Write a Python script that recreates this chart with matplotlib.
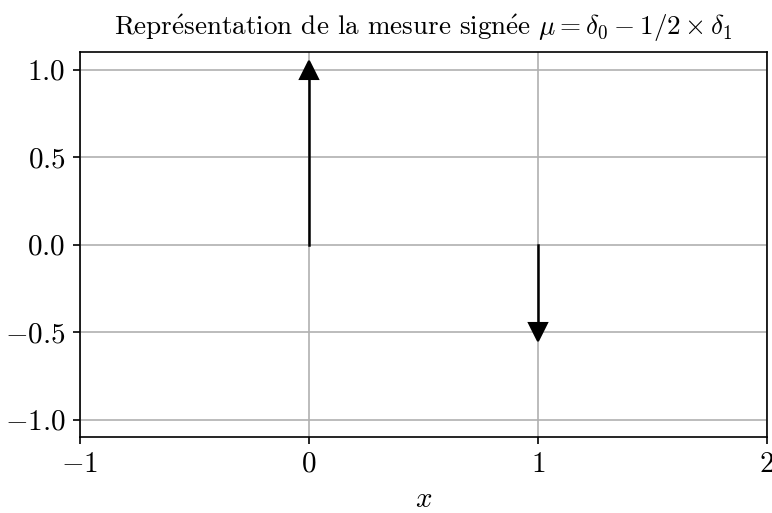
import matplotlib
matplotlib.use("Agg")
import matplotlib.pyplot as plt

plt.rcParams['font.family'] = 'serif'
plt.rcParams['font.serif'] = ['cmr10']
plt.rcParams['mathtext.fontset'] = 'cm'
plt.rcParams['axes.formatter.use_mathtext'] = True
plt.rcParams['font.size'] = 14

# masses de Dirac : positions et poids
positions = [0, 1]
weights = [1.0, -0.5]
xticks = [-1, 0, 1, 2]
yticks = [-1.0, -0.5, 0.0, 0.5, 1.0]

fig = plt.figure(figsize=(772 / 150, 513 / 150), dpi=150)
ax = fig.add_axes([80 / 772, 1 - 437 / 513, 687 / 772, 385 / 513])

for x, w in zip(positions, weights):
    ax.plot([x, x], [0, w], color='black', lw=1.2, zorder=3)
    ax.plot(x, w, marker='^' if w > 0 else 'v', color='black', ms=8.5, zorder=4)

ax.set_xlim(-1, 2)
ax.set_ylim(-1.1, 1.1)
ax.set_xticks(xticks)
ax.set_yticks(yticks)
ax.tick_params(labelsize=14)
ax.grid(True)
ax.set_axisbelow(True)
ax.set_xlabel(r'$x$', fontsize=14)
ax.set_title(r'Repr$\acute{\mathrm{e}}$sentation de la mesure sign$\acute{\mathrm{e}}$e $\mu = \delta_0 - 1/2 \times \delta_1$',
             fontsize=13, pad=8)

fig.savefig('out.png', dpi=150)
